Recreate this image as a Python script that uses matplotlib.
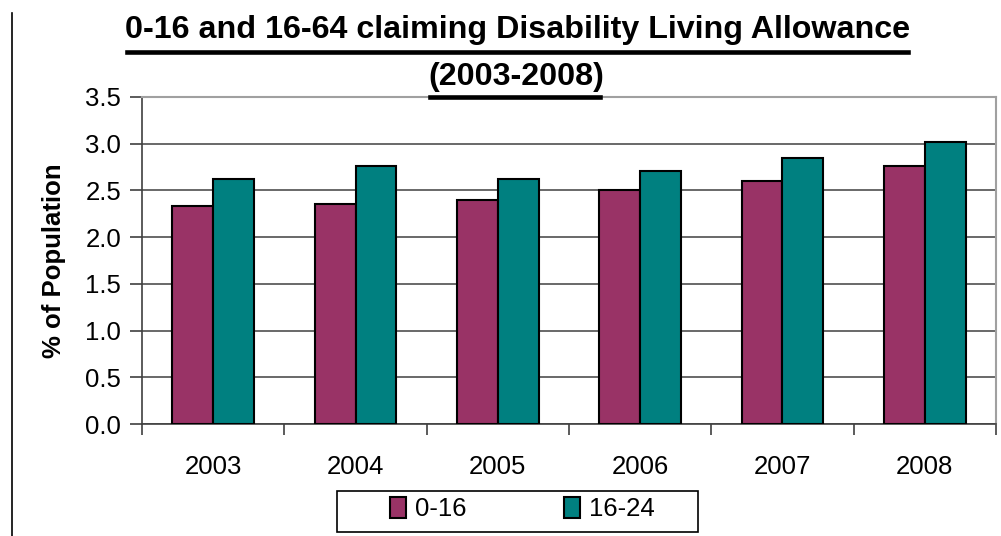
import matplotlib
matplotlib.use("Agg")
import matplotlib.pyplot as plt
import numpy as np
from matplotlib.lines import Line2D
from matplotlib.patches import Patch, Rectangle

years = ["2003", "2004", "2005", "2006", "2007", "2008"]
series_names = ["0-16", "16-24"]
vals_0_16 = [2.33, 2.36, 2.40, 2.50, 2.60, 2.76]
vals_16_24 = [2.62, 2.76, 2.62, 2.71, 2.85, 3.02]
yticks = [0.0, 0.5, 1.0, 1.5, 2.0, 2.5, 3.0, 3.5]

plt.rcParams['font.family'] = ['Liberation Sans', 'DejaVu Sans']
FS = 18.5

fig = plt.figure(figsize=(10.01, 5.36), dpi=100)
ax = fig.add_axes([142/1001, 1-424/536, (996-142)/1001, (424-97)/536])

x = np.arange(len(years))
w = 0.287
pink = "#993366"
teal = "#008080"
ax.bar(x - w/2, vals_0_16, width=w, color=pink, edgecolor="black", linewidth=1.5, zorder=3)
ax.bar(x + w/2, vals_16_24, width=w, color=teal, edgecolor="black", linewidth=1.5, zorder=3)

ax.set_xlim(-0.5, len(years) - 0.5)
ax.set_ylim(0, 3.5)
ax.set_yticks(yticks)
ax.set_yticklabels([f"{v:.1f}" for v in yticks], fontsize=FS)
ax.yaxis.grid(True, color="#404040", linewidth=1.1, zorder=0)
ax.set_axisbelow(True)

ax.set_xticks(x)
ax.set_xticklabels(years, fontsize=FS)
ax.tick_params(axis="x", which="major", length=0, pad=22)
ax.set_xticks(np.arange(-0.5, len(years) + 0.5, 1), minor=True)
ax.tick_params(axis="x", which="minor", length=8, width=1.2, color="#404040", direction="out")
ax.tick_params(axis="y", length=9, width=1.2, color="#404040", direction="out", pad=6)

for s in ["left", "bottom"]:
    ax.spines[s].set_color("#404040")
    ax.spines[s].set_linewidth(1.2)
for s in ["top", "right"]:
    ax.spines[s].set_color("#a0a0a0")
    ax.spines[s].set_linewidth(1.5)

ax.set_ylabel("% of Population", fontsize=FS, fontweight="bold")
ax.yaxis.set_label_coords(-(142-66)/(996-142), 0.5)

fig.text(518/1001, 1-30/536, "0-16 and 16-64 claiming Disability Living Allowance",
         ha="center", va="center", fontsize=23.2, fontweight="bold")
fig.text(516/1001, 1-77/536, "(2003-2008)", ha="center", va="center", fontsize=23.2, fontweight="bold")
fig.add_artist(Line2D([127/1001, 908/1001], [1-51.5/536, 1-51.5/536], color="black", linewidth=3.3))
fig.add_artist(Line2D([430/1001, 600/1001], [1-97/536, 1-97/536], color="black", linewidth=3.3))

fig.add_artist(Line2D([12/1001, 12/1001], [0, 1-13/536], color="black", linewidth=1.2))

fig.add_artist(Rectangle((337/1001, 1-532/536), (698-337)/1001, (532-491)/536,
                         transform=fig.transFigure, facecolor="white", edgecolor="black", linewidth=1.2))
handles = [Patch(facecolor=pink, edgecolor="black", linewidth=1.5),
           Patch(facecolor=teal, edgecolor="black", linewidth=1.5)]
leg = fig.legend(handles, series_names, loc="center", bbox_to_anchor=(522/1001, 1-509/536),
                 ncol=2, fontsize=FS, frameon=False,
                 handlelength=0.62, handleheight=0.89, columnspacing=3.8, handletextpad=0.35,
                 borderpad=0.2)

fig.savefig("out.png", dpi=100)
